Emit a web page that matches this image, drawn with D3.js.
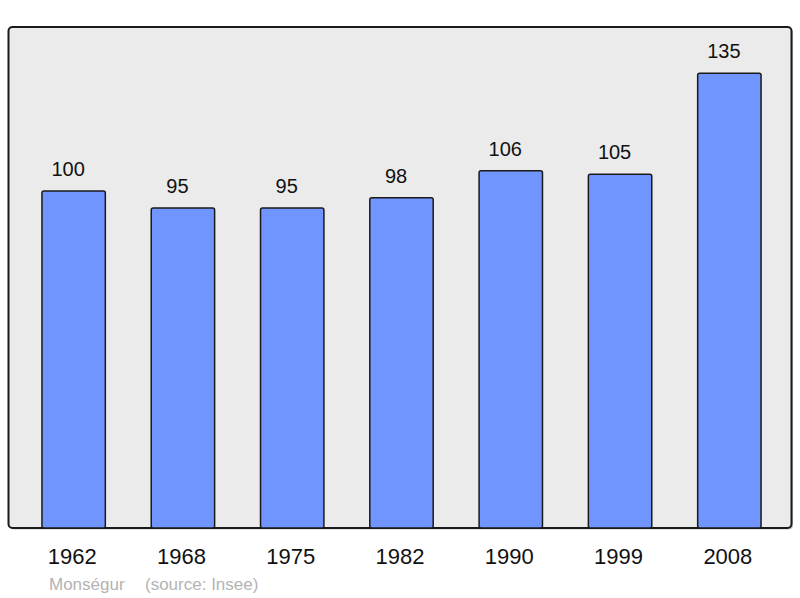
<!DOCTYPE html>
<html><head><meta charset="utf-8">
<script src="https://cdn.jsdelivr.net/npm/d3@7"></script>
<style>body{margin:0;background:#fff}svg{display:block}</style>
</head><body>
<script>
const years = ["1962","1968","1975","1982","1990","1999","2008"];
const population = [100, 95, 95, 98, 106, 105, 135];
const placeName = "Monségur";
const sourceText = "(source: Insee)";

const W = 800, H = 598;
const panel = {x: 8.5, y: 27, w: 783, h: 501};
const svg = d3.select("body").append("svg").attr("width", W).attr("height", H);
const font = "'Liberation Sans', Arial, sans-serif";

svg.append("rect").attr("x", panel.x + 1.5).attr("y", panel.y + 1.5)
  .attr("width", panel.w).attr("height", panel.h).attr("rx", 4)
  .attr("fill", "#c8c8c8");
svg.append("rect").attr("x", panel.x).attr("y", panel.y)
  .attr("width", panel.w).attr("height", panel.h).attr("rx", 4)
  .attr("fill", "#ebebeb").attr("stroke", "#1a1a1a").attr("stroke-width", 2);

const x = d3.scaleBand().domain(years).range([19, 784]).paddingInner(0.42).paddingOuter(0.21);
const baseY = panel.y + panel.h;
const y = d3.scaleLinear().domain([0, 148.7]).range([baseY, panel.y]);

const data = years.map((yr, i) => ({yr, v: population[i]}));

svg.append("g").selectAll("rect").data(data).join("rect")
  .attr("x", d => x(d.yr)).attr("y", d => y(d.v))
  .attr("width", x.bandwidth()).attr("height", d => baseY - y(d.v))
  .attr("rx", 2)
  .attr("fill", "#7095ff").attr("stroke", "#1a1a1a").attr("stroke-width", 1.5);

svg.append("g").selectAll("text").data(data).join("text")
  .attr("x", d => x(d.yr) + x.bandwidth() / 2 - 5.5).attr("y", d => y(d.v) - 15)
  .attr("text-anchor", "middle").attr("font-family", font).attr("font-size", 20)
  .attr("fill", "#111").text(d => d.v);

const xAxis = d3.axisBottom(x).tickSize(0).tickPadding(0);
const ax = svg.append("g").attr("transform", `translate(0,${baseY})`).call(xAxis);
ax.select(".domain").remove();
ax.selectAll("text").attr("x", -1.5).attr("y", 36).attr("dy", null)
  .attr("font-family", font).attr("font-size", 22).attr("fill", "#111");

svg.append("text").attr("x", 49).attr("y", 590)
  .attr("font-family", font).attr("font-size", 17).attr("fill", "#b3b3b3")
  .text(placeName);
svg.append("text").attr("x", 145).attr("y", 590)
  .attr("font-family", font).attr("font-size", 17).attr("fill", "#b3b3b3")
  .text(sourceText);
</script>
</body></html>
